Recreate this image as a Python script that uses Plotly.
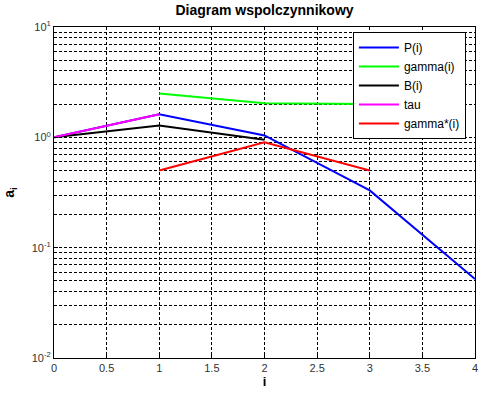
import plotly.graph_objects as go

# data
x_P = [0, 1, 2, 3, 4]
P = [1.0, 1.62, 1.04, 0.33, 0.052]
x_gamma = [1, 2, 3]
gamma = [2.5, 2.04, 2.0]
x_B = [0, 1, 2]
B = [1.0, 1.28, 0.95]
x_tau = [0, 1]
tau = [1.0, 1.62]
x_gstar = [1, 2, 3]
gstar = [0.5, 0.9, 0.5]

ytick_vals = [0.01, 0.1, 1, 10]
ytick_text = ["10<sup>-2</sup>", "10<sup>-1</sup>", "10<sup>0</sup>", "10<sup>1</sup>"]
xtick_vals = [0, 0.5, 1, 1.5, 2, 2.5, 3, 3.5, 4]
xtick_text = ["0", "0.5", "1", "1.5", "2", "2.5", "3", "3.5", "4"]

series = [
    ("P(i)", x_P, P, "#0000ff"),
    ("gamma(i)", x_gamma, gamma, "#00ff00"),
    ("B(i)", x_B, B, "#000000"),
    ("tau", x_tau, tau, "#ff00ff"),
    ("gamma*(i)", x_gstar, gstar, "#ff0000"),
]

fig = go.Figure()
for name, xs, ys, col in series:
    fig.add_trace(go.Scatter(x=xs, y=ys, mode="lines", name=name,
                             line=dict(color=col, width=2)))

font = "Arial, Liberation Sans, sans-serif"
dash = "3px,2px"
fig.update_layout(
    width=481, height=393,
    margin=dict(l=54, r=6, t=27, b=35),
    paper_bgcolor="white", plot_bgcolor="white",
    font=dict(family=font, size=11, color="black"),
    title=dict(text="<b>Diagram wspolczynnikowy</b>", x=0.5, xanchor="center",
               xref="paper", y=0.988, yanchor="top",
               font=dict(size=14, family=font)),
    showlegend=True,
    legend=dict(x=0.71, y=0.985, xanchor="left", yanchor="top",
                bgcolor="white", bordercolor="black", borderwidth=1,
                font=dict(size=12, family=font), itemwidth=40,
                tracegroupgap=0),
    xaxis=dict(range=[0, 4], tickvals=xtick_vals, ticktext=xtick_text,
               automargin=False,
               showgrid=True, gridcolor="black", griddash=dash, gridwidth=1,
               showline=True, linecolor="black", linewidth=1, mirror=True,
               ticks="inside", ticklen=4, tickcolor="black", zeroline=False,
               title=dict(text="<b>i</b>", font=dict(size=13), standoff=2),
               tickfont=dict(size=11, color="#333333")),
    yaxis=dict(type="log", range=[-2, 1], tickvals=ytick_vals, ticktext=ytick_text,
               automargin=False,
               showgrid=True, gridcolor="black", griddash=dash, gridwidth=1,
               showline=True, linecolor="black", linewidth=1, mirror=True,
               ticks="inside", ticklen=4, tickcolor="black", zeroline=False,
               minor=dict(dtick="D1", showgrid=True, gridcolor="black",
                          griddash=dash, gridwidth=1, ticks="inside",
                          ticklen=2, tickcolor="black"),
               title=dict(text="<b>a<sub>i</sub></b>", font=dict(size=14), standoff=13),
               tickfont=dict(size=11, color="#333333")),
)

fig.write_html("out.html", config={"displayModeBar": False},
               post_script="document.body.style.margin='0';")
